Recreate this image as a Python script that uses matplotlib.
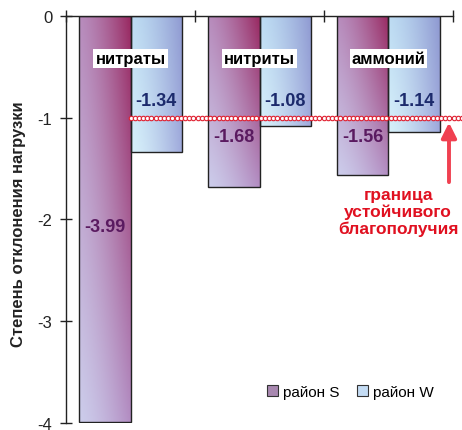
import numpy as np
import matplotlib
matplotlib.use('Agg')
import matplotlib.pyplot as plt
from matplotlib.patches import Patch

plt.rcParams['font.family'] = ['Liberation Sans', 'DejaVu Sans']

# data
categories = ['нитраты', 'нитриты', 'аммоний']
series_names = ['район S', 'район W']
vals_s = [-3.99, -1.68, -1.56]
vals_w = [-1.34, -1.08, -1.14]
threshold = -1.0
yticks = [0, -1, -2, -3, -4]
note = 'граница\nустойчивого\nблагополучия'

# corner colours of the bar gradients: top-left, top-right, bottom-left, bottom-right
grad_s = [(0.72, 0.55, 0.74), (0.60, 0.16, 0.38), (0.80, 0.80, 0.92), (0.70, 0.55, 0.76)]
grad_w = [(0.74, 0.86, 0.95), (0.56, 0.60, 0.82), (0.84, 0.94, 0.98), (0.62, 0.66, 0.86)]


def gradient(corners, n=64):
    tl, tr, bl, br = [np.array(c) for c in corners]
    u = np.linspace(0, 1, n)[None, :, None] ** 1.4
    v = np.linspace(0, 1, n)[:, None, None]
    top = tl * (1 - u) + tr * u
    bot = bl * (1 - u) + br * u
    return top * (1 - v) + bot * v


fig = plt.figure(figsize=(4.62, 4.31), dpi=100)
ax = fig.add_axes([0.1429, 0.0162, 0.8376, 0.9444])

x = np.arange(len(categories))
w = 0.4
bars_s = ax.bar(x - w / 2, vals_s, w, facecolor='none', edgecolor='#222222', linewidth=1.0, zorder=3)
bars_w = ax.bar(x + w / 2, vals_w, w, facecolor='none', edgecolor='#222222', linewidth=1.0, zorder=3)

for bars, corners in ((bars_s, grad_s), (bars_w, grad_w)):
    img = gradient(corners)
    for b in bars:
        x0, x1 = b.get_x(), b.get_x() + b.get_width()
        y1 = b.get_height()
        ax.imshow(img, extent=(x0, x1, y1, 0), aspect='auto',
                  interpolation='bilinear', zorder=2)

# threshold line made of small rings
xt = np.linspace(0, 2.57, 80)
ax.plot(xt, np.full_like(xt, threshold), color='#e02030', lw=0.8,
        marker='o', ms=3.2, mfc='white', mec='#e02030', mew=0.8,
        zorder=4, clip_on=False)

# category labels in white boxes
for xi, name in zip(x, categories):
    ax.text(xi, -0.42, name, ha='center', va='center', fontsize=12,
            fontweight='bold', color='black', zorder=5,
            bbox=dict(facecolor='white', edgecolor='none', pad=1.5))

# value labels
ys_lab = [-2.07, -1.18, -1.18]
for b, v, yl in zip(bars_s, vals_s, ys_lab):
    ax.text(b.get_x() + b.get_width() / 2, yl, f'{v:.2f}', ha='center', va='center',
            fontsize=13, fontweight='bold', color='#5a1a60', zorder=5)
for b, v in zip(bars_w, vals_w):
    ax.text(b.get_x() + b.get_width() / 2, -0.83, f'{v:.2f}', ha='center', va='center',
            fontsize=13, fontweight='bold', color='#1c2a6c', zorder=5)

# arrow and note
ax.annotate('', xy=(2.469, -1.02), xytext=(2.469, -1.66),
            arrowprops=dict(arrowstyle='-|>,head_width=0.45,head_length=0.9',
                            color='#f04050', lw=2.8), zorder=5, annotation_clip=False)
ax.text(2.075, -1.92, note, ha='center', va='center', fontsize=12.5,
        fontweight='bold', color='#e01020', linespacing=1.12, zorder=5)

# axes
ax.set_xlim(-0.5, 2.5)
ax.set_ylim(-4, 0)
ax.set_yticks(yticks)
ax.set_yticklabels([str(t) for t in yticks], fontsize=12, color='#222222')
ax.xaxis.tick_top()
ax.set_xticks([-0.5, 0.5, 1.5, 2.5])
ax.set_xticklabels([])
ax.tick_params(axis='both', direction='inout', length=8, width=1, color='#222222')
ax.tick_params(axis='y', pad=6)
for s in ('bottom', 'right'):
    ax.spines[s].set_visible(False)
for s in ('top', 'left'):
    ax.spines[s].set_color('#222222')
    ax.spines[s].set_linewidth(1)

fig.text(0.039, 0.481, 'Степень отклонения нагрузки', rotation=90, ha='center',
         va='center', fontsize=12, fontweight='bold', color='#222222')

handles = [Patch(facecolor='#a888b0', edgecolor='#333333', linewidth=0.8),
           Patch(facecolor='#c4dcf4', edgecolor='#333333', linewidth=0.8)]
ax.legend(handles, series_names, ncol=2, frameon=False, loc='center',
          bbox_to_anchor=(0.735, 0.077), fontsize=11, handlelength=0.7,
          handleheight=0.7, handletextpad=0.3, columnspacing=1.2)

fig.savefig('out.png', dpi=100)
